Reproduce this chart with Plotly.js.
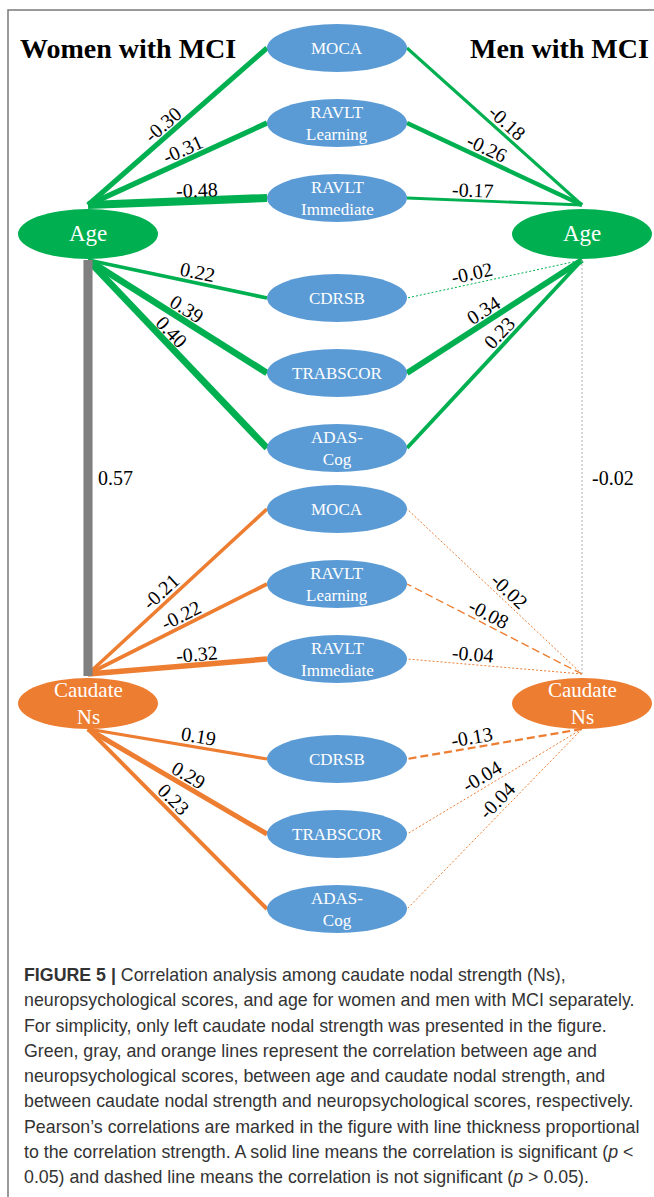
<!DOCTYPE html>
<html>
<head>
<meta charset="utf-8">
<script src="https://cdn.plot.ly/plotly-3.0.1.min.js"></script>
<style>html,body{margin:0;padding:0;background:#fff;}#chart{width:654px;height:1197px;}</style>
</head>
<body>
<div id="chart"></div>
<script>
// ---------------- DATA ----------------
const scoreLabels = ['MOCA', 'RAVLT<br>Learning', 'RAVLT<br>Immediate', 'CDRSB', 'TRABSCOR', 'ADAS-<br>Cog'];
const groupTitles = ['Women with MCI', 'Men with MCI'];
const hubLabels = ['Age', 'Caudate<br>Ns'];
// Age vs neuropsychological scores
const womenAgeR   = [-0.30, -0.31, -0.48, 0.22, 0.39, 0.40];
const womenAgeSig = [1, 1, 1, 1, 1, 1];
const menAgeR     = [-0.18, -0.26, -0.17, -0.02, 0.34, 0.23];
const menAgeSig   = [1, 1, 1, 0, 1, 1];
// Caudate Ns vs neuropsychological scores
const womenCaudR   = [-0.21, -0.22, -0.32, 0.19, 0.29, 0.23];
const womenCaudSig = [1, 1, 1, 1, 1, 1];
const menCaudR     = [-0.02, -0.08, -0.04, -0.13, -0.04, -0.04];
const menCaudSig   = [0, 0, 0, 0, 0, 0];
// Age vs Caudate Ns (women, men)
const ageCaudR   = [0.57, -0.02];
const ageCaudSig = [1, 0];
const captionLines = [
  '<b>FIGURE 5 |</b> Correlation analysis among caudate nodal strength (Ns),',
  'neuropsychological scores, and age for women and men with MCI separately.',
  'For simplicity, only left caudate nodal strength was presented in the figure.',
  'Green, gray, and orange lines represent the correlation between age and',
  'neuropsychological scores, between age and caudate nodal strength, and',
  'between caudate nodal strength and neuropsychological scores, respectively.',
  'Pearson\u2019s correlations are marked in the figure with line thickness proportional',
  'to the correlation strength. A solid line means the correlation is significant (<i>p</i> &lt;',
  '0.05) and dashed line means the correlation is not significant (<i>p</i> &gt; 0.05).'
];

// ---------------- LAYOUT (pixel space) ----------------
const W = 654, H = 1197;
const GREEN = '#00B050', ORANGE = '#ED7D31', BLUE = '#5B9BD5', GRAY = '#808080';
const SERIF = 'Liberation Serif';
const SANS = 'Liberation Sans';
const midX = 337, midRx = 70, midRy = 24;
const hubX = [88, 582], hubRx = 70, hubRy = 25;
const hubY = [234, 703];           // Age, Caudate
const blockTop = [48, 509];        // score block tops (Age block, Caudate block)
const rowY = (b, i) => blockTop[b] + 75 * i + (i >= 3 ? 25 : 0);
const widthOf = r => Math.max(1, 17 * Math.abs(r));

const traces = [];
const shapes = [];
const annotations = [];

function addEdge(P, Q, r, sig, color, labelD) {
  const w = widthOf(r);
  let dash = 'solid';
  if (!sig) dash = Math.abs(r) >= 0.05 ? '8px,4px' : '2px,2px';
  traces.push({x: [P[0], Q[0]], y: [P[1], Q[1]], mode: 'lines', type: 'scatter',
    line: {color: color, width: w, dash: dash}, hoverinfo: 'skip', showlegend: false});
  const dx = Q[0] - P[0], dy = Q[1] - P[1];
  const L = Math.hypot(dx, dy), ux = dx / L, uy = dy / L;
  let nx = uy, ny = -ux;
  if (ny > 0) { nx = -nx; ny = -ny; }
  const off = 11;
  const lx = P[0] + ux * labelD + nx * off, ly = P[1] + uy * labelD + ny * off;
  let ang = Math.atan2(uy, ux) * 180 / Math.PI;
  if (ux < 0) ang = Math.atan2(-uy, -ux) * 180 / Math.PI;
  annotations.push({x: lx, y: ly, xref: 'x', yref: 'y', text: r.toFixed(2), showarrow: false,
    textangle: ang, xanchor: 'center', yanchor: 'middle', font: {family: SERIF, size: 20, color: '#000'}});
}

const groups = [
  {side: 0, hub: 0, R: womenAgeR, S: womenAgeSig, color: GREEN},
  {side: 1, hub: 0, R: menAgeR, S: menAgeSig, color: GREEN},
  {side: 0, hub: 1, R: womenCaudR, S: womenCaudSig, color: ORANGE},
  {side: 1, hub: 1, R: menCaudR, S: menCaudSig, color: ORANGE}
];
groups.forEach(g => {
  const hx = hubX[g.side], hy = hubY[g.hub];
  g.R.forEach((r, i) => {
    const P = [hx, i < 3 ? hy - 29 : hy + 26];
    const Q = [g.side === 0 ? midX - midRx : midX + midRx, rowY(g.hub, i)];
    addEdge(P, Q, r, g.S[i], g.color, 110);
  });
});

// Age - Caudate vertical links
ageCaudR.forEach((r, s) => {
  const sig = ageCaudSig[s];
  traces.push({x: [hubX[s], hubX[s]], y: [hubY[0] + 26, hubY[1] - 27], mode: 'lines', type: 'scatter',
    line: {color: sig ? GRAY : '#b0b0b0', width: sig ? 16 * Math.abs(r) : 1, dash: sig ? 'solid' : '2px,2px'},
    hoverinfo: 'skip', showlegend: false});
  annotations.push({x: hubX[s] + 8, y: 478, xref: 'x', yref: 'y', text: r.toFixed(2), showarrow: false,
    xanchor: 'left', yanchor: 'middle', font: {family: SERIF, size: 20, color: '#000'}});
});

// score nodes
[0, 1].forEach(b => {
  scoreLabels.forEach((lab, i) => {
    const y = rowY(b, i);
    shapes.push({type: 'circle', xref: 'x', yref: 'y', x0: midX - midRx, x1: midX + midRx,
      y0: y - midRy, y1: y + midRy, fillcolor: BLUE, line: {width: 0}, layer: 'above'});
    annotations.push({x: midX, y: y, xref: 'x', yref: 'y', text: lab, showarrow: false,
      xanchor: 'center', yanchor: 'middle', font: {family: SERIF, size: 17, color: '#fff'}});
  });
});
// hub nodes
[0, 1].forEach(s => {
  [0, 1].forEach(h => {
    const col = h === 0 ? GREEN : ORANGE;
    shapes.push({type: 'circle', xref: 'x', yref: 'y', x0: hubX[s] - hubRx, x1: hubX[s] + hubRx,
      y0: hubY[h] - hubRy, y1: hubY[h] + hubRy + (h === 1 ? 1 : 0), fillcolor: col, line: {width: 0}, layer: 'above'});
    annotations.push({x: hubX[s], y: hubY[h] + (h === 0 ? -1 : 0), xref: 'x', yref: 'y', text: hubLabels[h], showarrow: false,
      xanchor: 'center', yanchor: 'middle', font: {family: SERIF, size: h === 0 ? 23 : 21, color: '#fff'}});
  });
});

// group titles
annotations.push({x: 128, y: 48, xref: 'x', yref: 'y', text: '<b>' + groupTitles[0] + '</b>', showarrow: false,
  xanchor: 'center', yanchor: 'middle', font: {family: SERIF, size: 28, color: '#000'}});
annotations.push({x: 559, y: 48, xref: 'x', yref: 'y', text: '<b>' + groupTitles[1] + '</b>', showarrow: false,
  xanchor: 'center', yanchor: 'middle', font: {family: SERIF, size: 28, color: '#000'}});

// frame
shapes.push({type: 'path', xref: 'x', yref: 'y', path: 'M 8 1197 L 8 10 L 654 10', line: {color: '#7a7a7a', width: 1.5}, layer: 'above'});

// caption
captionLines.forEach((t, i) => {
  annotations.push({x: 22, y: 975 + i * 25.25, xref: 'x', yref: 'y', text: t, showarrow: false,
    xanchor: 'left', yanchor: 'middle', font: {family: SANS, size: 17.8, color: '#333'}});
});

const layout = {
  width: W, height: H, margin: {l: 0, r: 0, t: 0, b: 0},
  paper_bgcolor: '#fff', plot_bgcolor: '#fff',
  xaxis: {range: [0, W], visible: false, fixedrange: true},
  yaxis: {range: [H, 0], visible: false, fixedrange: true},
  shapes: shapes, annotations: annotations, showlegend: false
};
Plotly.newPlot('chart', traces, layout, {staticPlot: true, displayModeBar: false});
</script>
</body>
</html>
